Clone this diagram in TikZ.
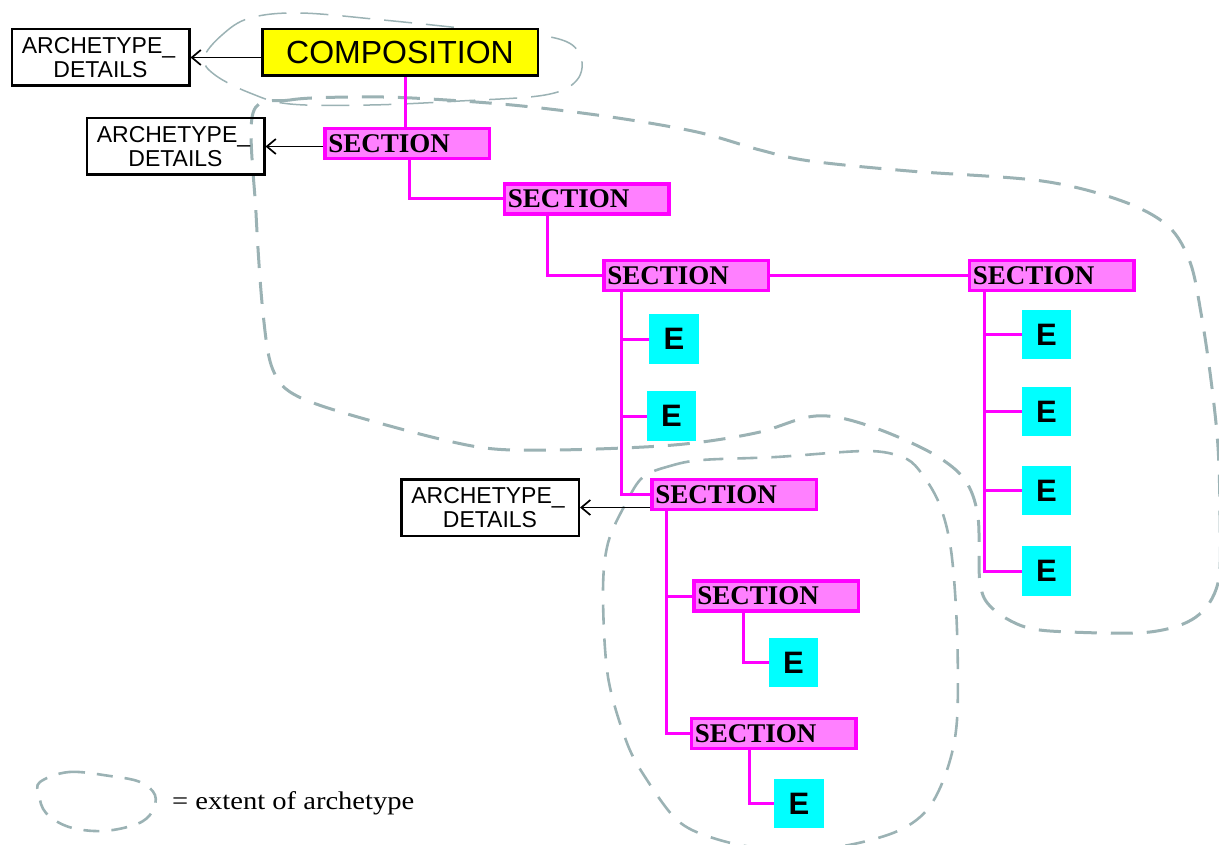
\documentclass[tikz,border=0pt]{standalone}
\usepackage{fontspec}
\setmainfont{Liberation Serif}
\setsansfont{Liberation Sans}
\newfontfamily\legfont[FakeStretch=1.12]{Liberation Serif}
\usetikzlibrary{arrows.meta}
\definecolor{blobc}{RGB}{155,178,180}
\definecolor{secfill}{RGB}{255,128,255}
\definecolor{mag}{RGB}{255,0,255}
\definecolor{cy}{RGB}{0,255,255}
\definecolor{yel}{RGB}{255,255,0}
\begin{document}
\begin{tikzpicture}[x=1pt,y=-1pt,
  secbox/.style={draw=mag, fill=secfill, line width=3.5pt, minimum height=30pt,
    inner xsep=3.5pt, inner ysep=0pt, text width=157.5pt, align=left,
    font=\fontsize{27}{29}\selectfont\bfseries},
  ebox/.style={fill=cy, minimum size=49.5pt, inner sep=0pt,
    font=\sffamily\bfseries\fontsize{31}{33}\selectfont},
  archbox/.style={draw, line width=2.5pt, minimum width=177.5pt, minimum height=56.5pt,
    inner sep=0pt, align=center, font=\sffamily\fontsize{23}{24}\selectfont},
  compbox/.style={draw, fill=yel, line width=2.5pt, minimum width=275.5pt, minimum height=46.5pt,
    inner sep=0pt, font=\sffamily\fontsize{32}{36}\selectfont},
  conn/.style={draw=mag, line width=3pt},
  arr/.style={draw=black, line width=1.7pt, -{Straight Barb[length=9pt,width=15pt]}},
  blob/.style={draw=blobc, line width=3pt, dash pattern=on 22pt off 14pt},
]
\path[use as bounding box] (0,0) rectangle (1219,845);
\begin{scope}
\clip (0,0) rectangle (1219,845);
% extent of archetypes
\draw[blob, line width=1.5pt, dash pattern=on 28pt off 14pt] plot[smooth cycle, tension=0.6] coordinates {
 (204,58) (222,35) (250,18) (300,13) (383,20) (470,29) (555,38) (580,55) (577,80)
 (545,95) (460,101) (370,105) (290,104) (250,93) (215,75)};
\draw[blob] plot[smooth cycle, tension=0.55] coordinates {
 (253,113) (290,100) (350,97) (412,98) (512,105) (611,117) (697,132) (760,150)
 (810,161) (909,171) (1042,181) (1122,201) (1168,226) (1190,262) (1201,313)
 (1211,380) (1218,447) (1220,520) (1218,583) (1196,617) (1150,632) (1070,632)
 (1025,627) (992,608) (980,583) (978,517) (965,480) (935,455) (886,432) (841,418)
 (808,417) (760,432) (702,442) (644,447) (551,450) (478,447) (379,423) (299,397)
 (273,370) (263,313) (256,213)};
\draw[blob, line width=2.6pt, dash pattern=on 20pt off 14pt] plot[smooth cycle, tension=0.55] coordinates {
 (643,477) (670,466) (702,460) (776,457) (866,451) (902,457) (919,470) (939,503)
 (951,550) (957,630) (957,720) (947,770) (927,810) (893,833) (830,848) (760,848)
 (710,837) (677,820) (647,780) (627,743) (608,677) (603,593) (608,543) (626,503)};
\draw[blob, line width=2.6pt, dash pattern=on 16pt off 12pt] plot[smooth cycle, tension=0.6] coordinates {
 (40,782) (69,772) (110,776) (140,782) (155,795) (152,812) (137,824) (103,831)
 (69,827) (46,813) (39,795)};
\end{scope}

% nodes
\node[compbox] (comp) at (400,52.5) {COMPOSITION};
\node[archbox] (arch1) at (100.5,57.5) {ARCHETYPE\_\kern4pt\\DETAILS};
\node[archbox] (arch2) at (175.5,146.5) {ARCHETYPE\_\kern4pt\\DETAILS};
\node[archbox] (arch3) at (490,507.5) {ARCHETYPE\_\kern4pt\\DETAILS};

\node[secbox] (sec1) at (407,143.5) {SECTION};
\node[secbox] (sec2) at (586.5,199) {SECTION};
\node[secbox] (sec3) at (686,275.5) {SECTION};
\node[secbox] (sec4) at (1051.5,275.5) {SECTION};
\node[secbox] (sec5) at (734,494.5) {SECTION};
\node[secbox] (sec6) at (776,596) {SECTION};
\node[secbox] (sec7) at (773.5,733.5) {SECTION};

\node[ebox] (e1) at (674,339) {E};
\node[ebox] (e2) at (671.5,416) {E};
\node[ebox] (f1) at (1046.5,334.5) {E};
\node[ebox] (f2) at (1046.5,411.5) {E};
\node[ebox] (f3) at (1046.5,490.5) {E};
\node[ebox] (f4) at (1046.5,571) {E};
\node[ebox] (g1) at (793.5,662.5) {E};
\node[ebox] (g2) at (799,803.5) {E};

% connectors
\draw[conn] (comp.south -| 405,0) -- (sec1.north -| 405,0);
\draw[conn] ([xshift=86pt]sec1.south west) |- (sec2.west);
\draw[conn] ([xshift=45pt]sec2.south west) |- (sec3.west);
\draw[conn] (sec3.east) -- (sec4.west);
\draw[conn] ([xshift=19pt]sec3.south west) |- (e1.west);
\draw[conn] ([xshift=19pt]sec3.south west) |- (e2.west);
\draw[conn] ([xshift=19pt]sec3.south west) |- (sec5.west);
\draw[conn] ([xshift=17pt]sec4.south west) |- (f1.west);
\draw[conn] ([xshift=17pt]sec4.south west) |- (f2.west);
\draw[conn] ([xshift=17pt]sec4.south west) |- (f3.west);
\draw[conn] ([xshift=17pt]sec4.south west) |- (f4.west);
\draw[conn] ([xshift=16pt]sec5.south west) |- (sec6.west);
\draw[conn] ([xshift=16pt]sec5.south west) |- (sec7.west);
\draw[conn] ([xshift=51pt]sec6.south west) |- (g1.west);
\draw[conn] ([xshift=60pt]sec7.south west) |- (g2.west);

\draw[arr] (comp.west |- arch1.east) -- (arch1.east);
\draw[arr] (sec1.west |- arch2.east) -- (arch2.east);
\draw[arr] (sec5.west |- arch3.east) -- (arch3.east);

% legend
\node[anchor=base west, inner sep=0pt, font=\legfont\fontsize{25.5}{28}\selectfont] (leg) at (172,809) {= extent of archetype};
\end{tikzpicture}
\end{document}
